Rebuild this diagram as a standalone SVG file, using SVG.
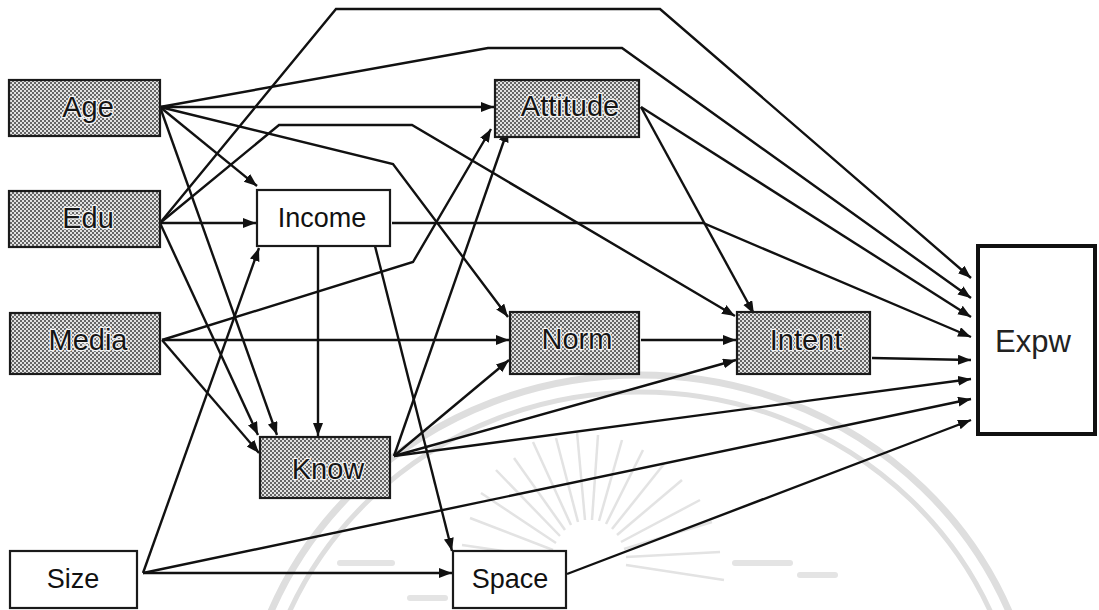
<svg xmlns="http://www.w3.org/2000/svg" width="1099" height="610" viewBox="0 0 1099 610">
<defs>
  <pattern id="dots" width="4" height="4" patternUnits="userSpaceOnUse">
    <rect width="4" height="4" fill="#e2e2e2"/>
    <rect x="0" y="0" width="2" height="2" fill="#666"/>
    <rect x="2" y="2" width="2" height="2" fill="#666"/>
  </pattern>
  <marker id="arr" markerUnits="userSpaceOnUse" markerWidth="14" markerHeight="11" refX="13" refY="5" orient="auto">
    <path d="M0,0 L13,5 L0,10 z" fill="#111"/>
  </marker>
</defs>
<style>
  .shaded { fill: url(#dots); stroke: #1a1a1a; stroke-width: 2.2; }
  .plain { fill: #fff; stroke: #1a1a1a; stroke-width: 2.2; }
  .lblS { font-family: "Liberation Sans", Arial, sans-serif; font-size: 29px; fill: #151515; text-anchor: middle; stroke: #f4f4f4; stroke-width: 2.5; paint-order: stroke; stroke-linejoin: round; }
  .lblP { font-family: "Liberation Sans", Arial, sans-serif; font-size: 27px; fill: #111; text-anchor: middle; }
  .edge { fill: none; stroke: #111; stroke-width: 2.4; marker-end: url(#arr); stroke-linejoin: miter; }
  .wm { fill: none; stroke: #dedede; }
</style>
<rect width="1099" height="610" fill="#fff"/>

<g id="watermark">
  <ellipse class="wm" cx="640" cy="760" rx="400" ry="385" stroke-width="7"/>
  <ellipse class="wm" cx="640" cy="760" rx="383" ry="368" stroke-width="5"/>
  <g stroke-width="2.5" stroke="#e3e3e3">
    <line x1="552" y1="574" x2="462" y2="608"/>
    <line x1="551" y1="566" x2="457" y2="583"/>
    <line x1="551" y1="558" x2="462" y2="545"/>
    <line x1="553" y1="550" x2="470" y2="518"/>
    <line x1="556" y1="543" x2="481" y2="493"/>
    <line x1="560" y1="536" x2="496" y2="470"/>
    <line x1="565" y1="530" x2="514" y2="458"/>
    <line x1="571" y1="525" x2="533" y2="442"/>
    <line x1="578" y1="522" x2="556" y2="438"/>
    <line x1="585" y1="520" x2="577" y2="432"/>
    <line x1="592" y1="520" x2="598" y2="435"/>
    <line x1="599" y1="521" x2="622" y2="440"/>
    <line x1="606" y1="524" x2="643" y2="450"/>
    <line x1="612" y1="529" x2="664" y2="464"/>
    <line x1="617" y1="535" x2="682" y2="480"/>
    <line x1="621" y1="542" x2="700" y2="500"/>
    <line x1="624" y1="549" x2="712" y2="522"/>
    <line x1="626" y1="557" x2="720" y2="552"/>
    <line x1="626" y1="565" x2="724" y2="580"/>
  </g>
  <g stroke-width="6" stroke="#e4e4e4" stroke-linecap="round">
    <line x1="340" y1="563" x2="392" y2="563"/>
    <line x1="410" y1="598" x2="445" y2="598"/>
    <line x1="735" y1="563" x2="790" y2="563"/>
    <line x1="800" y1="575" x2="835" y2="575"/>
  </g>
</g>

<g id="connectors">
  <path class="edge" d="M160,107 L494,107"/>
  <path class="edge" d="M160,107 L488,48 L622,48 L971,298"/>
  <path class="edge" d="M160,107 L393,164 L508,317"/>
  <path class="edge" d="M160,107 L257,186"/>
  <path class="edge" d="M160,107 L277,435"/>
  <path class="edge" d="M160,223 L256,223"/>
  <path class="edge" d="M160,223 L336,9 L660,9 L971,278"/>
  <path class="edge" d="M160,223 L279,125 L412,125 L735,316"/>
  <path class="edge" d="M160,223 L258,435"/>
  <path class="edge" d="M162,340 L509,340"/>
  <path class="edge" d="M162,340 L259,453"/>
  <path class="edge" d="M162,340 L413,262 L491,129"/>
  <path class="edge" d="M318,247 L318,436"/>
  <path class="edge" d="M375,246 L452,551"/>
  <path class="edge" d="M392,223 L703,223 L971,337"/>
  <path class="edge" d="M143,573 L259,248"/>
  <path class="edge" d="M143,573 L452,573"/>
  <path class="edge" d="M143,573 L971,399"/>
  <path class="edge" d="M394,456 L508,129"/>
  <path class="edge" d="M394,456 L509,360"/>
  <path class="edge" d="M394,456 L736,360"/>
  <path class="edge" d="M394,456 L971,379"/>
  <path class="edge" d="M641,107 L754,314"/>
  <path class="edge" d="M641,107 L971,317"/>
  <path class="edge" d="M641,340 L736,340"/>
  <path class="edge" d="M872,358 L971,360"/>
  <path class="edge" d="M567,574 L971,420"/>
</g>

<g id="node-age">
  <rect class="shaded" x="9" y="80" width="151" height="56"/>
  <text class="lblS" x="88" y="117">Age</text>
</g>
<g id="node-edu">
  <rect class="shaded" x="9" y="191" width="151" height="56"/>
  <text class="lblS" x="88" y="228">Edu</text>
</g>
<g id="node-media">
  <rect class="shaded" x="10" y="313" width="150" height="61"/>
  <text class="lblS" x="88" y="350">Media</text>
</g>
<g id="node-income">
  <rect class="plain" x="257" y="190" width="133" height="56"/>
  <text class="lblP" x="322" y="227">Income</text>
</g>
<g id="node-attitude">
  <rect class="shaded" x="495" y="80" width="144" height="57"/>
  <text class="lblS" x="570" y="116">Attitude</text>
</g>
<g id="node-norm">
  <rect class="shaded" x="510" y="312" width="129" height="62"/>
  <text class="lblS" x="577" y="349">Norm</text>
</g>
<g id="node-intent">
  <rect class="shaded" x="737" y="312" width="133" height="62"/>
  <text class="lblS" x="806" y="350">Intent</text>
</g>
<g id="node-know">
  <rect class="shaded" x="260" y="437" width="130" height="61"/>
  <text class="lblS" x="328" y="479">Know</text>
</g>
<g id="node-size">
  <rect class="plain" x="10" y="551" width="127" height="57"/>
  <text class="lblP" x="73" y="588">Size</text>
</g>
<g id="node-space">
  <rect class="plain" x="453" y="551" width="113" height="57"/>
  <text class="lblP" x="510" y="588">Space</text>
</g>
<g id="node-expw">
  <rect x="978" y="246" width="117" height="188" fill="#fff" stroke="#111" stroke-width="4"/>
  <text x="1033" y="352" font-family="'Liberation Sans', Arial, sans-serif" font-size="31" fill="#222" text-anchor="middle">Expw</text>
</g>
</svg>
